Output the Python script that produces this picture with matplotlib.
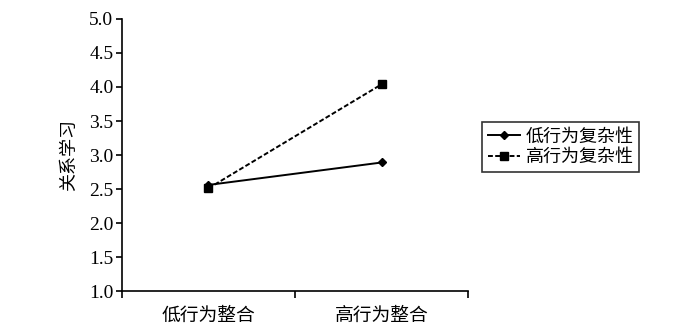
import matplotlib
matplotlib.use("Agg")
import matplotlib.pyplot as plt
from matplotlib.ticker import MultipleLocator, FormatStrFormatter

# ---------------------------------------------------------------------------
# Data
# ---------------------------------------------------------------------------
categories = ["低行为整合", "高行为整合"]
low_complexity = [2.56, 2.89]    # 低行为复杂性
high_complexity = [2.51, 4.04]   # 高行为复杂性
series_labels = ["低行为复杂性", "高行为复杂性"]
y_label = "关系学习"

CJK = ["Noto Sans CJK SC", "DejaVu Sans"]
NUM = ["Liberation Serif", "DejaVu Serif"]

fig = plt.figure(figsize=(7, 3.33), dpi=100)
ax = fig.add_axes([0.174, 0.126, 0.495, 0.817])

x = [i + 0.5 for i in range(len(categories))]
ax.plot(x, low_complexity, color="black", lw=1.4, marker="D", ms=4.5,
        label=series_labels[0])
ax.plot(x, high_complexity, color="black", lw=1.4, ls=(0, (2.5, 1.2)),
        marker="s", ms=6, label=series_labels[1])

ax.set_xlim(0, len(categories))
ax.set_ylim(1.0, 5.0)
ax.yaxis.set_major_locator(MultipleLocator(0.5))
ax.yaxis.set_major_formatter(FormatStrFormatter("%.1f"))
ax.set_xticks(range(len(categories) + 1))
ax.set_xticklabels([])
ax.set_xticks(x, minor=True)
ax.set_xticklabels(categories, minor=True, family=CJK, fontsize=13.5)
ax.tick_params(axis="x", which="minor", length=0, pad=10)
ax.tick_params(axis="x", which="major", length=5, width=1.2)
ax.tick_params(axis="y", length=4, width=1.2, pad=2, labelsize=14)
for lab in ax.get_yticklabels():
    lab.set_family(NUM)

for side in ["top", "right"]:
    ax.spines[side].set_visible(False)
for side in ["left", "bottom"]:
    ax.spines[side].set_linewidth(1.2)

ax.set_ylabel(y_label, family=CJK, fontsize=13, labelpad=8)

leg = ax.legend(loc="center left", bbox_to_anchor=(1.04, 0.53),
                prop={"family": CJK, "size": 13}, frameon=True, fancybox=False,
                edgecolor="black", handlelength=1.8, handletextpad=0.3,
                borderpad=0.3, labelspacing=0.15, borderaxespad=0)
leg.get_frame().set_linewidth(1.2)

fig.savefig("out.png", dpi=100)
